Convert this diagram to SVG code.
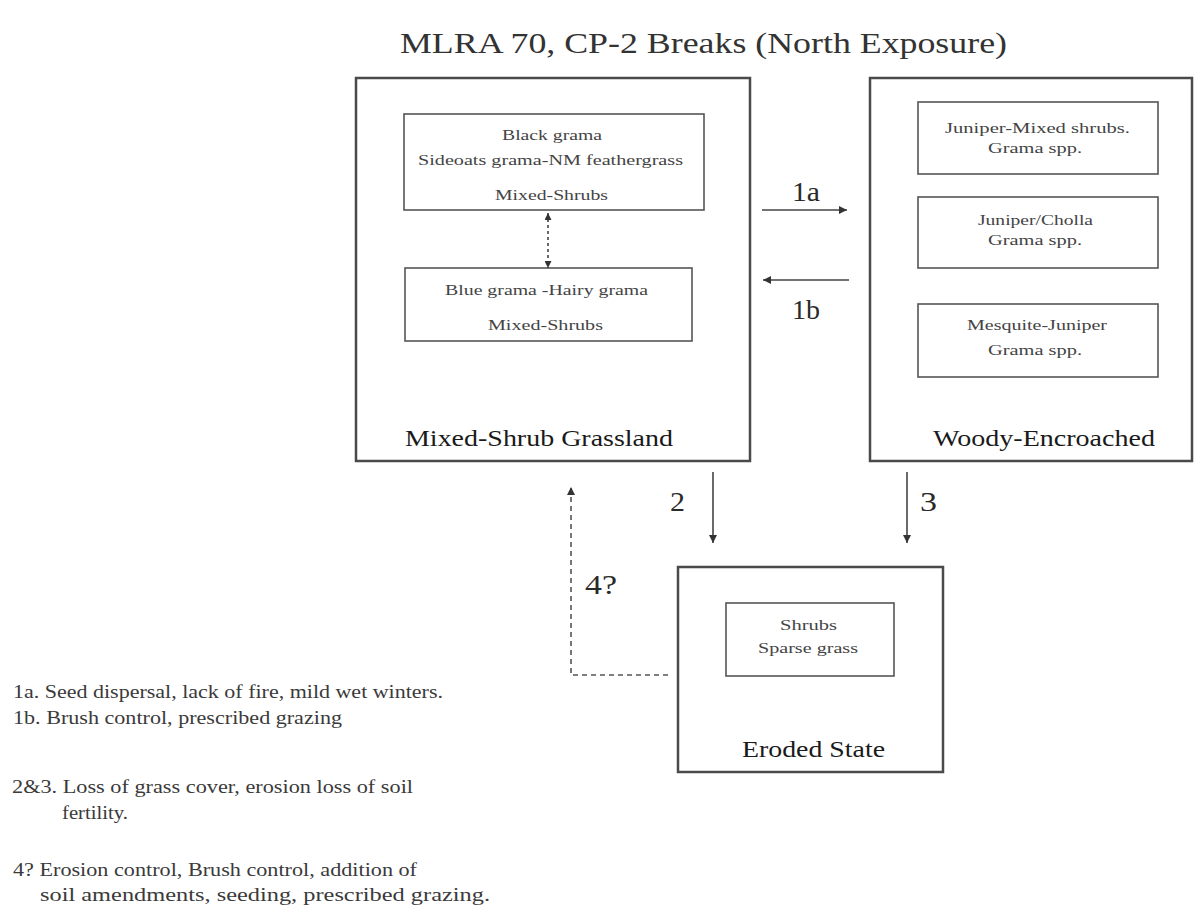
<svg xmlns="http://www.w3.org/2000/svg" width="1194" height="907" viewBox="0 0 1194 907">
<style>
.box{fill:#fff;stroke:#4a4a4a;stroke-width:2.5}
.inner{fill:#fff;stroke:#555;stroke-width:1.6}
.t{font-family:'Liberation Serif','Times New Roman',Tinos,Times,serif;fill:#333}
.in{font-size:15px;fill:#444}
.lab{font-size:23px;fill:#1a1a1a}
.num{font-size:27px;fill:#2a2a2a}
.note{font-size:18px;fill:#3a3a3a}
.ln{stroke:#444;stroke-width:1.6;fill:none}
.dash{stroke:#555;stroke-width:1.6;fill:none;stroke-dasharray:5,4}
.dot{stroke:#444;stroke-width:1.6;fill:none;stroke-dasharray:3,3}
</style>
<defs>
<marker id="ah" viewBox="0 0 10 10" refX="10" refY="5" markerWidth="8" markerHeight="8" markerUnits="userSpaceOnUse" orient="auto-start-reverse"><path d="M0,0 L10,5 L0,10 z" fill="#333"/></marker>
<marker id="ahs" viewBox="0 0 10 10" refX="10" refY="5" markerWidth="7" markerHeight="7" markerUnits="userSpaceOnUse" orient="auto-start-reverse"><path d="M0,0 L10,5 L0,10 z" fill="#333"/></marker>
</defs>
<rect width="1194" height="907" fill="#fff"/>
<text class="t" x="400" y="53" font-size="30" fill="#222" textLength="607" lengthAdjust="spacingAndGlyphs">MLRA 70, CP-2 Breaks (North Exposure)</text>

<g id="mixed-shrub-grassland">
<rect class="box" x="356" y="78" width="394" height="383"/>
<rect class="inner" x="404" y="114" width="300" height="96"/>
<text class="t in" x="502" y="140" textLength="100" lengthAdjust="spacingAndGlyphs">Black grama</text>
<text class="t in" x="418" y="165" textLength="265" lengthAdjust="spacingAndGlyphs">Sideoats grama-NM feathergrass</text>
<text class="t in" x="495" y="200" textLength="113" lengthAdjust="spacingAndGlyphs">Mixed-Shrubs</text>
<rect class="inner" x="405" y="268" width="287" height="73"/>
<text class="t in" x="445" y="295" textLength="203" lengthAdjust="spacingAndGlyphs">Blue grama -Hairy grama</text>
<text class="t in" x="488" y="330" textLength="115" lengthAdjust="spacingAndGlyphs">Mixed-Shrubs</text>
<text class="t lab" x="405" y="446" textLength="268" lengthAdjust="spacingAndGlyphs">Mixed-Shrub Grassland</text>
</g>

<g id="woody-encroached">
<rect class="box" x="870" y="78" width="322" height="383"/>
<rect class="inner" x="918" y="102" width="240" height="72"/>
<text class="t in" x="945" y="133" textLength="185" lengthAdjust="spacingAndGlyphs">Juniper-Mixed shrubs.</text>
<text class="t in" x="988" y="153" textLength="94" lengthAdjust="spacingAndGlyphs">Grama spp.</text>
<rect class="inner" x="918" y="197" width="240" height="71"/>
<text class="t in" x="978" y="225" textLength="115" lengthAdjust="spacingAndGlyphs">Juniper/Cholla</text>
<text class="t in" x="988" y="245" textLength="94" lengthAdjust="spacingAndGlyphs">Grama spp.</text>
<rect class="inner" x="918" y="304" width="240" height="73"/>
<text class="t in" x="967" y="330" textLength="140" lengthAdjust="spacingAndGlyphs">Mesquite-Juniper</text>
<text class="t in" x="988" y="355" textLength="94" lengthAdjust="spacingAndGlyphs">Grama spp.</text>
<text class="t lab" x="933" y="446" textLength="222" lengthAdjust="spacingAndGlyphs">Woody-Encroached</text>
</g>

<g id="eroded-state">
<rect class="box" x="678" y="567" width="265" height="205"/>
<rect class="inner" x="726" y="603" width="168" height="73"/>
<text class="t in" x="780" y="630" textLength="57" lengthAdjust="spacingAndGlyphs">Shrubs</text>
<text class="t in" x="758" y="653" textLength="100" lengthAdjust="spacingAndGlyphs">Sparse grass</text>
<text class="t lab" x="742" y="757" textLength="143" lengthAdjust="spacingAndGlyphs">Eroded State</text>
</g>

<g id="connectors">
<line class="dot" x1="548" y1="213" x2="548" y2="268" marker-start="url(#ahs)" marker-end="url(#ahs)"/>
<line class="ln" x1="762" y1="210" x2="847" y2="210" marker-end="url(#ah)"/>
<text class="t num" x="792" y="201" textLength="28" lengthAdjust="spacingAndGlyphs">1a</text>
<line class="ln" x1="849" y1="280" x2="763" y2="280" marker-end="url(#ah)"/>
<text class="t num" x="792" y="319" textLength="28" lengthAdjust="spacingAndGlyphs">1b</text>
<line class="ln" x1="713" y1="472" x2="713" y2="543" marker-end="url(#ah)"/>
<text class="t num" x="670" y="511" textLength="15" lengthAdjust="spacingAndGlyphs">2</text>
<line class="ln" x1="907" y1="472" x2="907" y2="543" marker-end="url(#ah)"/>
<text class="t num" x="920" y="511" textLength="17" lengthAdjust="spacingAndGlyphs">3</text>
<path class="dash" d="M668,675 H571 V487" marker-end="url(#ah)"/>
<text class="t num" x="585" y="594" textLength="32" lengthAdjust="spacingAndGlyphs">4?</text>
</g>

<g id="notes">
<text class="t note" x="13" y="698" textLength="430" lengthAdjust="spacingAndGlyphs">1a. Seed dispersal, lack of fire, mild wet winters.</text>
<text class="t note" x="13" y="724" textLength="329" lengthAdjust="spacingAndGlyphs">1b. Brush control, prescribed grazing</text>
<text class="t note" x="12" y="793" textLength="401" lengthAdjust="spacingAndGlyphs">2&amp;3. Loss of grass cover, erosion loss of soil</text>
<text class="t note" x="62" y="819" textLength="66" lengthAdjust="spacingAndGlyphs">fertility.</text>
<text class="t note" x="13" y="876" textLength="404" lengthAdjust="spacingAndGlyphs">4? Erosion control, Brush control, addition of</text>
<text class="t note" x="40" y="901" textLength="450" lengthAdjust="spacingAndGlyphs">soil amendments, seeding, prescribed grazing.</text>
</g>
</svg>
